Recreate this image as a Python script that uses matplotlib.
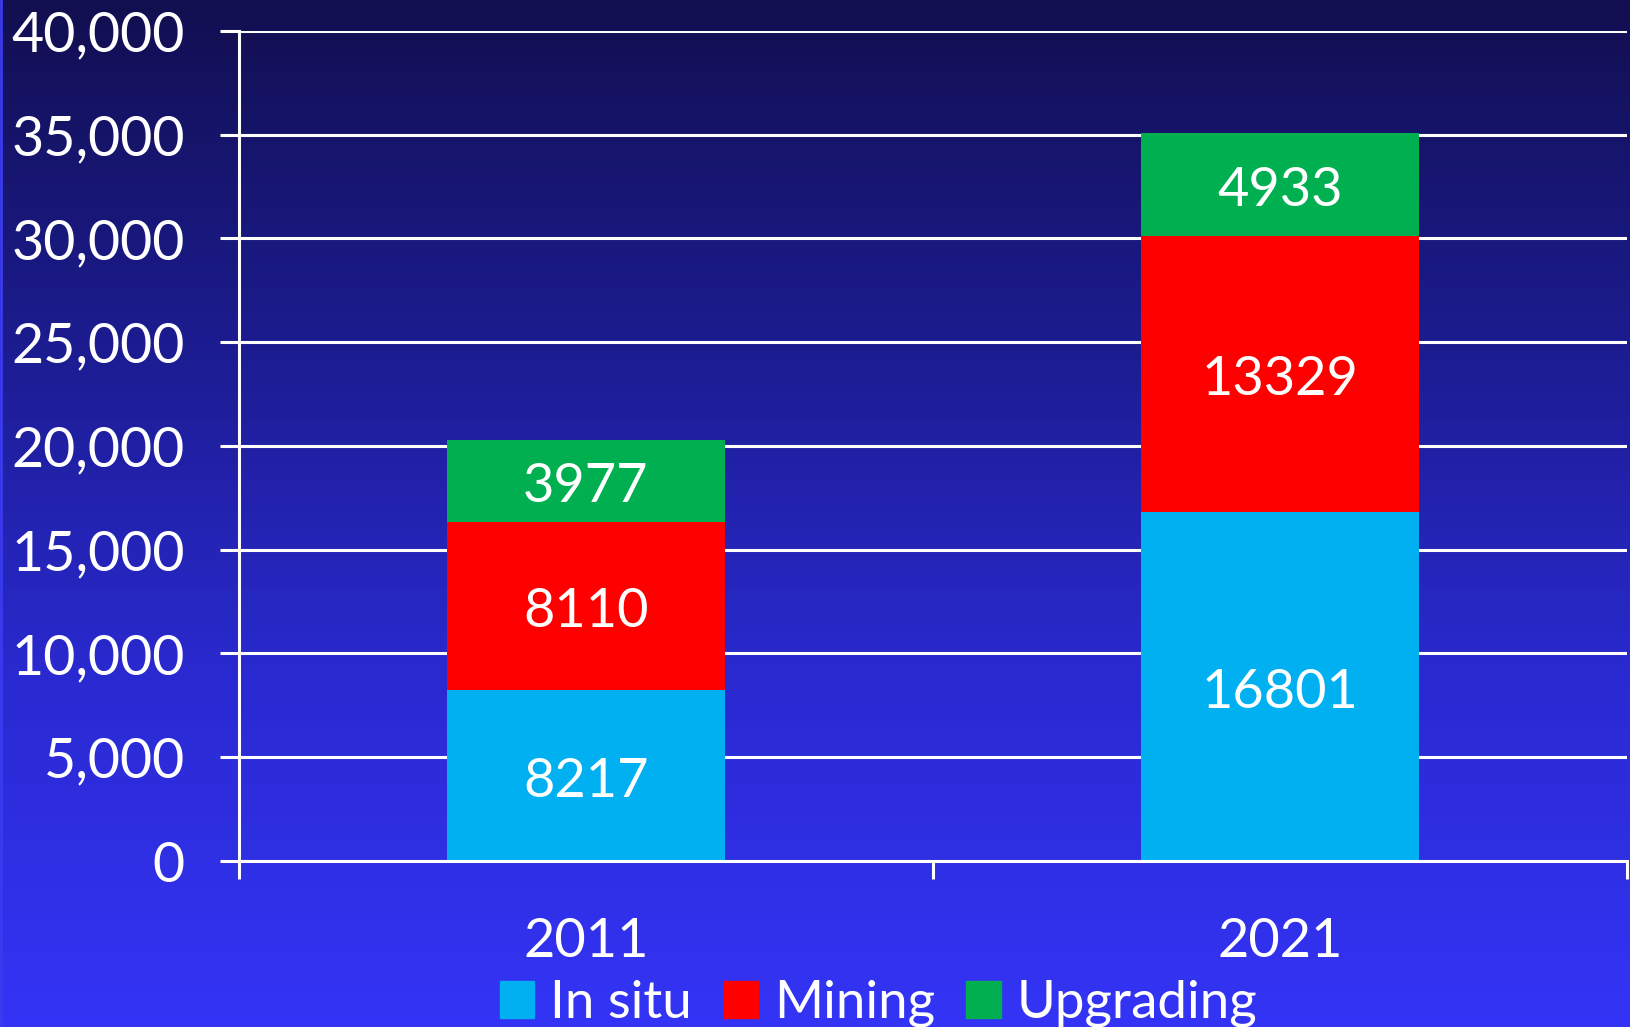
import matplotlib.pyplot as plt
import numpy as np
from matplotlib.colors import LinearSegmentedColormap
from matplotlib.patches import Patch

# data
years = ['2011', '2021']
in_situ = [8217, 16801]
mining = [8110, 13329]
upgrading = [3977, 4933]
series_names = ['In situ', 'Mining', 'Upgrading']
series_colors = ['#00B0F0', '#FF0000', '#00B050']
y_ticks = [0, 5000, 10000, 15000, 20000, 25000, 30000, 35000, 40000]

plt.rcParams['font.family'] = ['Lato', 'DejaVu Sans']

fig = plt.figure(figsize=(16.3, 10.27), dpi=100)

# background gradient
bg = fig.add_axes([0, 0, 1, 1], zorder=0)
cmap = LinearSegmentedColormap.from_list('bg', ['#3434f6', '#2a2ad2', '#1c1c90', '#120f50'])
bg.imshow(np.linspace(0, 1, 256).reshape(-1, 1), aspect='auto', cmap=cmap,
          origin='lower', extent=[0, 1, 0, 1])
bg.axvline(0.0008, color='#3a3af0', lw=2)
bg.set_axis_off()

ax = fig.add_axes([0.1466, 0.1616, 0.8514, 0.8084], zorder=1)
ax.patch.set_alpha(0)

x = np.arange(len(years))
w = 0.4
bottom = np.zeros(len(years))
for vals, name, col in zip([in_situ, mining, upgrading], series_names, series_colors):
    bars = ax.bar(x, vals, w, bottom=bottom, color=col, label=name, zorder=3)
    ax.bar_label(bars, labels=[str(v) for v in vals], label_type='center',
                 color='white', fontsize=39, padding=-4)
    bottom += np.array(vals)

ax.set_xlim(-0.5, 1.5)
ax.set_ylim(0, 40000)
ax.set_yticks(y_ticks)
ax.set_yticklabels([f'{t:,}' for t in y_ticks])
ax.yaxis.grid(True, color='white', lw=2.2, zorder=1)
ax.set_axisbelow(True)

ax.set_xticks(x)
ax.set_xticklabels(years)
ax.set_xticks([-0.5, 0.5, 1.5], minor=True)
ax.tick_params(axis='x', which='major', length=0, pad=40, labelsize=39, colors='white')
ax.tick_params(axis='x', which='minor', length=13, width=2.2, color='white')
ax.tick_params(axis='y', length=14, width=2.2, color='white', labelcolor='white',
               labelsize=40, pad=25)

for s in ['top', 'right']:
    ax.spines[s].set_visible(False)
for s in ['left', 'bottom']:
    ax.spines[s].set_color('white')
    ax.spines[s].set_linewidth(2.2)
    ax.spines[s].set_zorder(4)

handles = [Patch(color=c, label=n) for c, n in zip(series_colors, series_names)]
fig.legend(handles=handles, loc='center', bbox_to_anchor=(0.539, 0.023), ncol=3,
           frameon=False, fontsize=38, labelcolor='white', handlelength=0.65,
           handleheight=0.7, handletextpad=0.3, columnspacing=0.6)

fig.savefig('out.png', dpi=100)
